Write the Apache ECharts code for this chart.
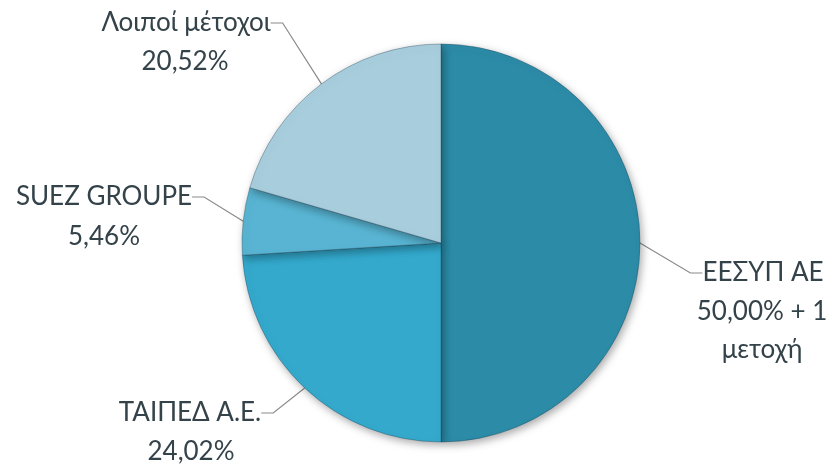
<!DOCTYPE html>
<html><head><meta charset="utf-8">
<script src="https://cdn.jsdelivr.net/npm/echarts@6/dist/echarts.min.js"></script>
<style>html,body{margin:0;padding:0;background:#fff}#c{width:838px;height:466px}</style>
</head><body><div id="c"></div>
<script>
const categories = ['ΕΕΣΥΠ ΑΕ', 'ΤΑΙΠΕΔ Α.Ε.', 'SUEZ GROUPE', 'Λοιποί μέτοχοι'];
const values = [50.00, 24.02, 5.46, 20.52];
const valueLabels = ['50,00% + 1\nμετοχή', '24,02%', '5,46%', '20,52%'];
const colors = ['#2c8ba7', '#34a9cc', '#58b4d2', '#a8cddc'];
// label anchor positions (layout only)
const namePos = [
  {x: 763, y: 273},
  {x: 190, y: 413},
  {x: 104, y: 197},
  {x: 186, y: 23}
];
const valuePos = [
  {x: 762, y: 331},
  {x: 191, y: 452},
  {x: 104, y: 237},
  {x: 185, y: 62}
];

const chart = echarts.init(document.getElementById('c'));
const textStyle = {
  color: '#344249',
  fontFamily: 'Lato',
  fontSize: 26,
  lineHeight: 38,
  align: 'center'
};
const common = {
  type: 'pie',
  center: [441, 243],
  radius: [0, 199],
  startAngle: 90,
  clockwise: true
};
chart.setOption({
  animation: false,
  series: [
    Object.assign({}, common, {
      data: categories.map((n, i) => ({name: n, value: values[i], itemStyle: {color: colors[i]}})),
      itemStyle: {
        borderColor: 'rgba(20,60,80,0.35)',
        borderWidth: 1,
        shadowBlur: 9,
        shadowColor: 'rgba(0,0,0,0.35)',
        shadowOffsetX: 2,
        shadowOffsetY: 3
      },
      label: Object.assign({show: true, position: 'outside', formatter: '{b}'}, textStyle),
      labelLine: {show: true, length: 20, length2: 12, lineStyle: {color: '#8a8a8a', width: 1.2}},
      labelLayout: function (p) {
        const q = namePos[p.dataIndex];
        return {x: q.x, y: q.y, align: 'center', verticalAlign: 'middle'};
      }
    }),
    Object.assign({}, common, {
      silent: true,
      data: categories.map((n, i) => ({name: n, value: values[i], label: {formatter: valueLabels[i]}})),
      itemStyle: {color: 'rgba(0,0,0,0)'},
      label: Object.assign({show: true, position: 'outside'}, textStyle),
      labelLine: {show: false},
      labelLayout: function (p) {
        const q = valuePos[p.dataIndex];
        return {x: q.x, y: q.y, align: 'center', verticalAlign: 'middle'};
      }
    })
  ]
});
</script></body></html>
